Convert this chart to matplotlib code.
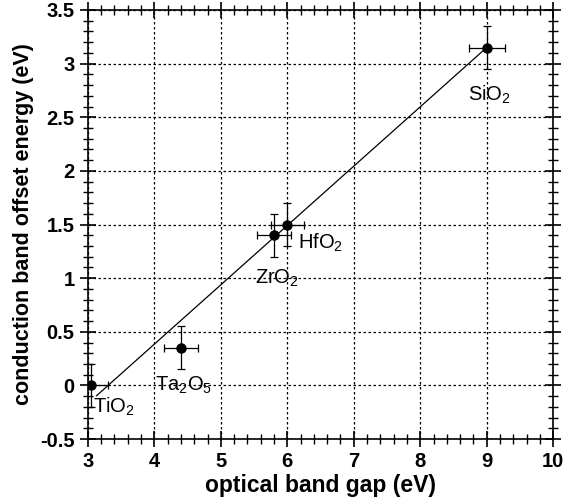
import matplotlib.pyplot as plt
from matplotlib.ticker import MultipleLocator

plt.rcParams['font.family'] = ['Liberation Sans', 'DejaVu Sans']
plt.rcParams['mathtext.fontset'] = 'custom'
plt.rcParams['mathtext.rm'] = 'Liberation Sans'
plt.rcParams['mathtext.it'] = 'Liberation Sans:italic'
plt.rcParams['mathtext.bf'] = 'Liberation Sans:bold'

# oxide data
names = ['TiO$_2$', 'Ta$_2$O$_5$', 'ZrO$_2$', 'HfO$_2$', 'SiO$_2$']
gap = [3.05, 4.4, 5.8, 6.0, 9.0]
offset = [0.0, 0.35, 1.4, 1.5, 3.15]
gap_err = [0.25, 0.25, 0.25, 0.25, 0.27]
offset_err = [0.2, 0.2, 0.2, 0.2, 0.2]

# label anchor points
label_x = [3.08, 4.01, 5.51, 6.16, 8.72]
label_y = [-0.2, 0.0, 1.0, 1.33, 2.71]

# fit line endpoints
fit_x = [3.13, 9.0]
fit_y = [-0.096, 3.15]

fig = plt.figure(figsize=(5.78, 4.99), dpi=100)
ax = fig.add_axes([0.152, 0.120, 0.805, 0.860])

ax.plot(fit_x, fit_y, color='black', lw=0.9)
ax.errorbar(gap, offset, xerr=gap_err, yerr=offset_err, fmt='o', color='black',
            ms=6.5, elinewidth=0.9, capsize=3, capthick=0.9, zorder=3)

for n, x, y in zip(names, label_x, label_y):
    ax.text(x, y, n, fontsize=14.5, va='center', ha='left')

ax.set_xlim(3, 10)
ax.set_ylim(-0.5, 3.5)
ax.xaxis.set_major_locator(MultipleLocator(1))
ax.xaxis.set_minor_locator(MultipleLocator(0.2))
ax.yaxis.set_major_locator(MultipleLocator(0.5))
ax.yaxis.set_minor_locator(MultipleLocator(0.1))
ax.yaxis.set_major_formatter(plt.FuncFormatter(lambda v, p: f'{v:g}'))
ax.grid(True, which='major', ls=(0, (2, 2)), color='black', lw=0.9)
ax.tick_params(which='both', direction='inout', top=True, right=True)
ax.tick_params(which='major', length=12, width=1.2, labelsize=14.5)
ax.tick_params(which='minor', length=7, width=1)
for s in ax.spines.values():
    s.set_linewidth(1.2)
for lab in ax.get_xticklabels() + ax.get_yticklabels():
    lab.set_fontweight('bold')

ax.set_xlabel('optical band gap (eV)', fontsize=16.5, fontweight='bold', labelpad=2)
ax.set_ylabel('conduction band offset energy (eV)', fontsize=15.5, fontweight='bold',
              labelpad=4)

fig.savefig('out.png', dpi=100)
